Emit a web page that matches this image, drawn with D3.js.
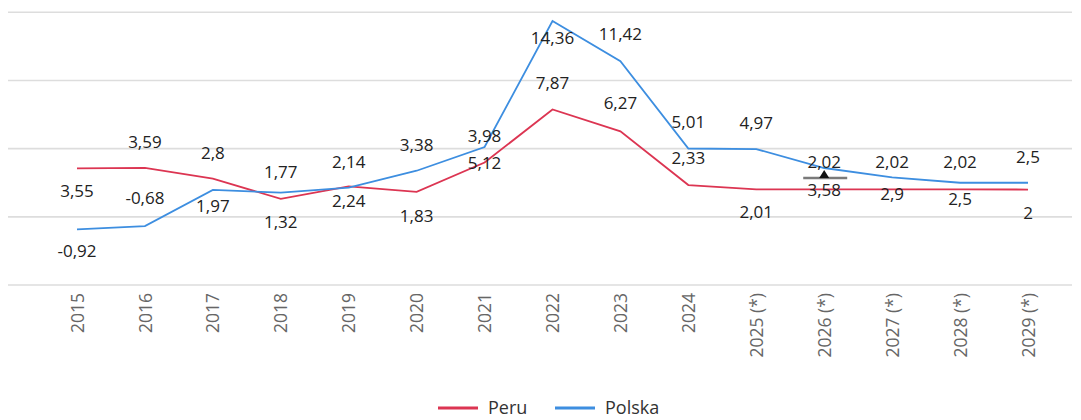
<!DOCTYPE html>
<html><head><meta charset="utf-8">
<script src="https://cdn.jsdelivr.net/npm/d3@7"></script>
<style>
html,body{margin:0;padding:0;background:#fff;}
svg{display:block;font-family:"Open Sans","Noto Sans",sans-serif;}
</style></head>
<body>
<svg id="chart" width="1081" height="420"></svg>
<script>
const years = ["2015","2016","2017","2018","2019","2020","2021","2022","2023","2024","2025 (*)","2026 (*)","2027 (*)","2028 (*)","2029 (*)"];
const peru = [3.55,3.59,2.8,1.32,2.24,1.83,3.98,7.87,6.27,2.33,2.01,2.02,2.02,2.02,2];
const polska = [-0.92,-0.68,1.97,1.77,2.14,3.38,5.12,14.36,11.42,5.01,4.97,3.58,2.9,2.5,2.5];
const yTicks = [-5,0,5,10,15];
const seriesNames = ["Peru","Polska"];

// label placement offsets (px from point), layout only
const peruLabelDy = [23,-26,-26,23,15,24,-27,-26,-28,-27,23,-27,-27,-27,23];
const polskaLabelDy = [22,-28,16,-21,-26,-26,16,17,-27,-26,-26,22,17,16,-26];

const colors = {"Peru":"#dc3552","Polska":"#3d8ee0"};

const svg = d3.select("#chart");
const x = d3.scalePoint().domain(years).range([77,1028]);
const y = d3.scaleLinear().domain([-5,15]).range([285,12.3]);

// grid
svg.append("g").selectAll("line").data(yTicks).join("line")
  .attr("x1",8).attr("x2",1072)
  .attr("y1",d=>y(d)).attr("y2",d=>y(d))
  .attr("stroke","#dddddd").attr("stroke-width",1.6);

// x axis labels
const xAxis = svg.append("g").attr("transform","translate(0,293)")
  .call(d3.axisBottom(x).tickSize(0).tickPadding(0));
xAxis.select(".domain").remove();
xAxis.selectAll("text")
  .attr("transform","rotate(-90)")
  .attr("x",0).attr("y",0).attr("dy","0.35em")
  .attr("text-anchor","end")
  .attr("fill","#666")
  .style("font-size","17.5px")
  .style("font-family","'Open Sans','Noto Sans',sans-serif");

const line = d3.line().x((d,i)=>x(years[i])).y(d=>y(d));
const series = [
  {name:"Peru", values:peru, dy:peruLabelDy},
  {name:"Polska", values:polska, dy:polskaLabelDy}
];

svg.append("g").selectAll("path").data(series).join("path")
  .attr("d",d=>line(d.values))
  .attr("fill","none")
  .attr("stroke",d=>colors[d.name])
  .attr("stroke-width",1.8);

// small cursor-like marker seen at 2026
const cx = x("2026 (*)");
svg.append("line").attr("x1",cx-21).attr("x2",cx+23).attr("y1",178).attr("y2",178)
  .attr("stroke","#7a7a7a").attr("stroke-width",2.5);
svg.append("path").attr("d",`M${cx},170 L${cx+5},178 L${cx-5},178 Z`).attr("fill","#111");

// data labels
const fmt = v => String(v).replace(".",",");
series.forEach(s=>{
  svg.append("g").selectAll("text").data(s.values).join("text")
    .attr("x",(d,i)=>x(years[i]))
    .attr("y",(d,i)=>y(d)+s.dy[i])
    .attr("dy","0.35em")
    .attr("text-anchor","middle")
    .attr("fill","#222")
    .style("font-size","17px")
    .text(d=>fmt(d));
});

// legend
const leg = svg.append("g");
const legItems = [{name:"Peru",x:438},{name:"Polska",x:555}];
legItems.forEach(it=>{
  leg.append("line").attr("x1",it.x).attr("x2",it.x+40).attr("y1",408).attr("y2",408)
    .attr("stroke",colors[it.name]).attr("stroke-width",3);
  leg.append("text").attr("x",it.x+50).attr("y",408).attr("dy","0.35em")
    .attr("fill","#333").style("font-size","18px").text(it.name);
});
</script>
</body></html>
